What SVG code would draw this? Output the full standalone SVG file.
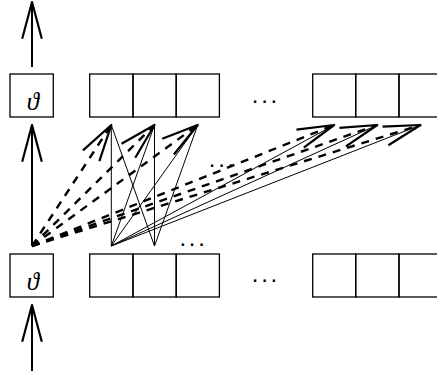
<svg xmlns="http://www.w3.org/2000/svg" width="437" height="371" viewBox="0 0 437 371">
<style>
.box{fill:none;stroke:#000;stroke-width:1.3}
.th{font-family:"Liberation Serif","DejaVu Serif",serif;font-style:italic;font-size:25px;text-anchor:middle;fill:#000}
.dots{font-family:"Liberation Sans",Arial,sans-serif;font-size:24px;letter-spacing:2.8px;fill:#000}
.arr{fill:none;stroke:#000;stroke-width:2;marker-end:url(#ah)}
.dash{fill:none;stroke:#000;stroke-width:2.4;stroke-dasharray:8 7;marker-end:url(#ah)}
.thin{fill:none;stroke:#000;stroke-width:1}
</style>
<defs>
<marker id="ah" markerUnits="userSpaceOnUse" orient="auto" refX="0" refY="0" markerWidth="40" markerHeight="22" viewBox="-40 -11 40 22" overflow="visible">
<path d="M-36.7,-9.8 L0,0 L-36.7,9.8" fill="none" stroke="#000" stroke-width="2.2" stroke-linejoin="round"/>
</marker>
</defs>
<g id="connectors">
<line class="arr" x1="32" y1="67" x2="32" y2="2"/>
<line class="arr" x1="32" y1="246" x2="32" y2="125"/>
<line class="arr" x1="32" y1="371" x2="32" y2="305"/>
<line class="thin" x1="111.3" y1="246" x2="111.3" y2="125"/>
<line class="thin" x1="111.3" y1="246" x2="154.5" y2="125"/>
<line class="thin" x1="111.3" y1="246" x2="197.7" y2="125"/>
<line class="thin" x1="111.3" y1="246" x2="334.2" y2="125"/>
<line class="thin" x1="111.3" y1="246" x2="377.3" y2="125"/>
<line class="thin" x1="111.3" y1="246" x2="420.5" y2="125"/>
<line class="thin" x1="154.5" y1="246" x2="111.3" y2="125"/>
<line class="thin" x1="154.5" y1="246" x2="154.5" y2="125"/>
<line class="thin" x1="154.5" y1="246" x2="197.7" y2="125"/>
<line class="dash" x1="32" y1="246" x2="111.3" y2="125"/>
<line class="dash" x1="32" y1="246" x2="154.5" y2="125"/>
<line class="dash" x1="32" y1="246" x2="197.7" y2="125"/>
<line class="dash" x1="32" y1="246" x2="334.2" y2="125"/>
<line class="dash" x1="32" y1="246" x2="377.3" y2="125"/>
<line class="dash" x1="32" y1="246" x2="420.5" y2="125"/>
</g>
<g id="theta-top">
<rect class="box" x="10" y="74" width="43.3" height="43"/>
<text class="th" x="33" y="110">ϑ</text>
</g>
<g id="theta-bottom">
<rect class="box" x="10" y="254" width="43.3" height="43"/>
<text class="th" x="33" y="290">ϑ</text>
</g>
<g id="top-left-cells">
<rect class="box" x="89.7" y="74" width="43.3" height="43"/>
<rect class="box" x="133" y="74" width="43.2" height="43"/>
<rect class="box" x="176.2" y="74" width="43.2" height="43"/>
</g>
<g id="top-right-cells">
<rect class="box" x="312.7" y="74" width="43" height="43"/>
<rect class="box" x="355.7" y="74" width="43.3" height="43"/>
<rect class="box" x="399" y="74" width="43.3" height="43"/>
</g>
<g id="bottom-left-cells">
<rect class="box" x="89.7" y="254" width="43.3" height="43"/>
<rect class="box" x="133" y="254" width="43.2" height="43"/>
<rect class="box" x="176.2" y="254" width="43.2" height="43"/>
</g>
<g id="bottom-right-cells">
<rect class="box" x="312.7" y="254" width="43" height="43"/>
<rect class="box" x="355.7" y="254" width="43.3" height="43"/>
<rect class="box" x="399" y="254" width="43.3" height="43"/>
</g>
<g id="ellipses">
<text class="dots" x="251.7" y="103">...</text>
<text class="dots" x="251.7" y="282">...</text>
<text class="dots" x="179.4" y="246.3">...</text>
<text class="dots" x="208.7" y="167.3">...</text>
</g>
</svg>
